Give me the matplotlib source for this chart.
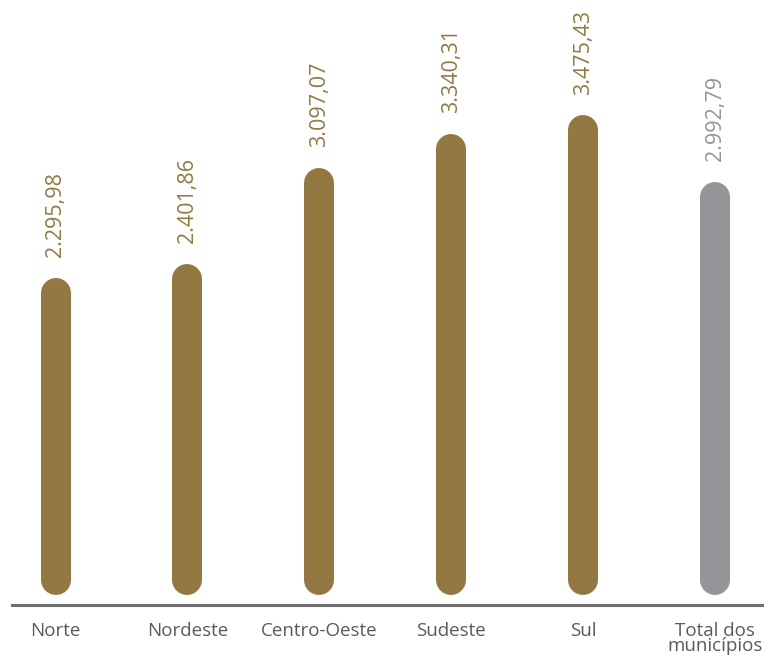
import matplotlib.pyplot as plt

regioes = ['Norte', 'Nordeste', 'Centro-Oeste', 'Sudeste', 'Sul', 'Total dos\nmunicípios']
valores = [2295.98, 2401.86, 3097.07, 3340.31, 3475.43, 2992.79]
rotulos = ['2.295,98', '2.401,86', '3.097,07', '3.340,31', '3.475,43', '2.992,79']
cores = ['#937941'] * 5 + ['#939598']

fig = plt.figure(figsize=(7.64, 6.64), dpi=100)
ax = fig.add_axes([12 / 764, 59 / 664, 752 / 764, 605 / 664])

ymin, ymax = -72, 4312
ax.set_xlim(-0.33, 5.37)
ax.set_ylim(ymin, ymax)

# half bar width in data units (bars are 30 px wide, rounded caps)
px_per_unit = 605 / (ymax - ymin)
r = 15 / px_per_unit

for i, (v, c, lab) in enumerate(zip(valores, cores, rotulos)):
    ax.plot([i, i], [r, v - r], color=c, linewidth=30 * 72 / 100,
            solid_capstyle='round')
    ax.annotate(lab, (i, v), xytext=(0, 15), textcoords='offset points',
                rotation=90, ha='center', va='bottom', color=c,
                fontsize=15.5, family='Open Sans')

ax.axhline(ymin, color='#6f6f6f', linewidth=2.2, clip_on=False)

for i, nome in enumerate(regioes):
    ax.text(i, ymin - 125, nome, ha='center', va='top', color='#5a5a5a',
            fontsize=13.5, family='Open Sans', linespacing=0.8)

for s in ax.spines.values():
    s.set_visible(False)
ax.set_xticks([])
ax.set_yticks([])

fig.savefig('out.png', dpi=100)
